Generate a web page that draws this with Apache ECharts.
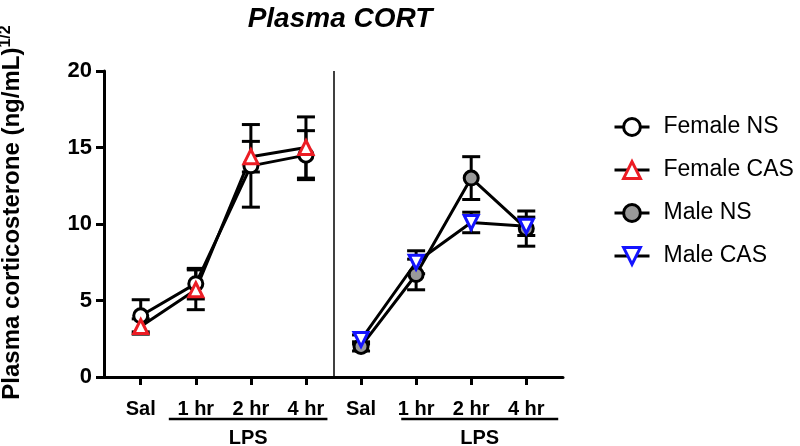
<!DOCTYPE html>
<html>
<head>
<meta charset="utf-8">
<script src="https://cdn.jsdelivr.net/npm/echarts@6/dist/echarts.min.js"></script>
<style>html,body{margin:0;padding:0;background:#fff;}#c{width:800px;height:446px;}</style>
</head>
<body>
<div id="c"></div>
<script>
// ---- data ----
const categories = ['Sal', '1 hr', '2 hr', '4 hr'];
const yTicks = [0, 5, 10, 15, 20];
const femaleNS = [4.0, 6.1, 13.8, 14.5];
const femaleNSErr = [1.05, 1.0, 2.7, 1.6];
const femaleCAS = [3.3, 5.7, 14.4, 15.0];
const femaleCASErr = [0.5, 1.3, 1.0, 2.0];
const maleNS = [2.0, 6.7, 13.0, 9.7];
const maleNSErr = [0.3, 1.0, 1.4, 1.15];
const maleCAS = [2.45, 7.5, 10.1, 9.85];
const maleCASErr = [0.3, 0.75, 0.67, 0.6];
const lpsSpans = [[0.51, 3.39], [4.73, 7.58]];
const seriesNames = ['Female NS', 'Female CAS', 'Male NS', 'Male CAS'];

const FONT = 'Liberation Sans, Arial, Helvetica, sans-serif';
const RED = '#ec1c24', BLUE = '#1414ff', GRAY = '#9a9a9a';

function pts(vals, off) { return vals.map((v, i) => [i + off, v]); }
function errPts(vals, errs, off) { return vals.map((v, i) => [i + off, v, errs[i]]); }

function errRender(params, api) {
  const x = api.value(0), m = api.value(1), e = api.value(2);
  const hi = api.coord([x, m + e]), lo = api.coord([x, m - e]);
  const hw = 9;
  const style = { stroke: '#000', lineWidth: 3, fill: null };
  return { type: 'group', children: [
    { type: 'line', shape: { x1: hi[0], y1: hi[1], x2: lo[0], y2: lo[1] }, style },
    { type: 'line', shape: { x1: hi[0] - hw, y1: hi[1], x2: hi[0] + hw, y2: hi[1] }, style },
    { type: 'line', shape: { x1: lo[0] - hw, y1: lo[1], x2: lo[0] + hw, y2: lo[1] }, style }
  ]};
}

function lpsRender(params, api) {
  const a = api.coord([api.value(0), 0]);
  const b = api.coord([api.value(1), 0]);
  return { type: 'group', children: [
    { type: 'line', shape: { x1: a[0], y1: a[1] + 42, x2: b[0], y2: b[1] + 42 }, style: { stroke: '#000', lineWidth: 2.5 } },
    { type: 'text', style: { text: 'LPS', x: (a[0] + b[0]) / 2, y: a[1] + 61, align: 'center', verticalAlign: 'middle',
      font: 'bold 20px ' + FONT, fill: '#000' } }
  ]};
}

function lineSeries(name, data, symbol, fill, border, rotate) {
  return {
    name, type: 'line', data, symbol, symbolSize: 14, symbolRotate: rotate,
    itemStyle: { color: fill, borderColor: border, borderWidth: 3 },
    lineStyle: { color: '#000', width: 3 },
    emphasis: { disabled: true }, z: 3
  };
}

const chart = echarts.init(document.getElementById('c'));
chart.setOption({
  animation: false,
  backgroundColor: '#fff',
  title: {
    text: 'Plasma CORT', left: 335, top: 0, textAlign: 'center',
    textStyle: { fontFamily: FONT, fontWeight: 'bold', fontStyle: 'italic', fontSize: 28, color: '#000' }
  },
  legend: {
    orient: 'vertical', left: 608, top: 110, itemWidth: 35, itemHeight: 21, itemGap: 19,
    data: seriesNames, selectedMode: false,
    lineStyle: { width: 3, color: '#000' },
    itemStyle: { borderWidth: 3 },
    textStyle: { fontFamily: FONT, fontSize: 23, color: '#000', lineHeight: 24, padding: [0, 0, 0, 9] }
  },
  grid: { left: 104, right: 237, top: 71, bottom: 69, containLabel: false, outerBoundsMode: 'none' },
  xAxis: {
    type: 'value', min: -2 / 3, max: 23 / 3,
    axisLine: { show: true, onZero: false, lineStyle: { color: '#000', width: 3 } },
    axisTick: { show: true, length: 8, lineStyle: { color: '#000', width: 3 }, customValues: [0, 1, 2, 3, 4, 5, 6, 7] },
    axisLabel: { customValues: [0, 1, 2, 3, 4, 5, 6, 7], margin: 22, formatter: v => categories[Math.round(v) % 4],
      fontFamily: FONT, fontWeight: 'bold', fontSize: 20, color: '#000' },
    splitLine: { show: false }
  },
  yAxis: {
    type: 'value', min: 0, max: 20, interval: 5,
    name: 'Plasma corticosterone (ng/mL){sup|1/2}', nameLocation: 'middle', nameGap: 78,
    nameTextStyle: { fontFamily: FONT, fontWeight: 'bold', fontSize: 24, color: '#000', padding: [0, 0, 0, 23],
      verticalAlign: 'bottom',
      rich: { sup: { fontFamily: FONT, fontWeight: 'bold', fontSize: 16, color: '#000', verticalAlign: 'bottom', padding: [0, 0, 12, 0] } } },
    axisLine: { show: true, onZero: false, lineStyle: { color: '#000', width: 3 } },
    axisTick: { show: true, length: 8, lineStyle: { color: '#000', width: 3 } },
    axisLabel: { margin: 12, fontFamily: FONT, fontWeight: 'bold', fontSize: 22, color: '#000',
      formatter: v => (yTicks.indexOf(v) >= 0 ? String(v) : '') },
    splitLine: { show: false }
  },
  series: [
    { type: 'custom', name: 'errF', renderItem: errRender, data: errPts(femaleNS, femaleNSErr, 0).concat(errPts(femaleCAS, femaleCASErr, 0)), z: 2, silent: true,
      markLine: { silent: true, symbol: ['none', 'none'], label: { show: false }, lineStyle: { color: '#000', width: 1.5, type: 'solid' },
        data: [[{ coord: [3.5, 0] }, { coord: [3.5, 20] }]] } },
    { type: 'custom', name: 'errM', renderItem: errRender, data: errPts(maleNS, maleNSErr, 4).concat(errPts(maleCAS, maleCASErr, 4)), z: 2, silent: true },
    { type: 'custom', name: 'lps', renderItem: lpsRender, data: lpsSpans, silent: true, clip: false },
    lineSeries('Female NS', pts(femaleNS, 0), 'circle', '#fff', '#000', 0),
    lineSeries('Female CAS', pts(femaleCAS, 0), 'triangle', '#fff', RED, 0),
    lineSeries('Male NS', pts(maleNS, 4), 'circle', GRAY, '#000', 0),
    lineSeries('Male CAS', pts(maleCAS, 4), 'triangle', '#fff', BLUE, 180)
  ]
});
</script>
</body>
</html>
